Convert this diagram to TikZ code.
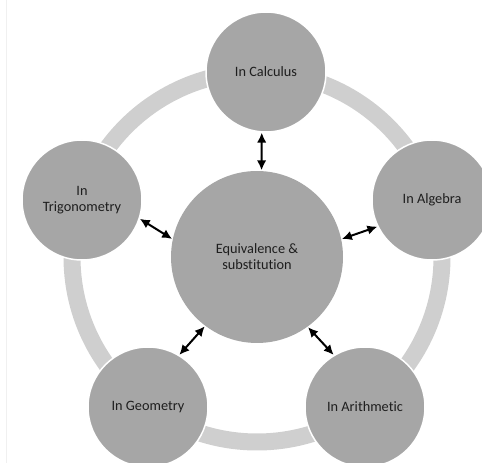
\documentclass[tikz,border=0pt]{standalone}
\usepackage{fontspec}
\setmainfont{Carlito}[Ligatures=NoCommon]
\usetikzlibrary{arrows.meta}
\definecolor{ringgrey}{HTML}{CFCFCF}
\definecolor{discgrey}{HTML}{A6A6A6}
\definecolor{labelgrey}{HTML}{1E1E1E}

\begin{document}
\begin{tikzpicture}[x=1pt,y=1pt]
    \tikzstyle{disc} = [circle, fill=discgrey, draw=white, line width=1.5pt, text=labelgrey, align=center, inner sep=0pt, font=\fontsize{14.3}{16}\selectfont]
    \tikzstyle{link} = [line width=2pt, {Latex[length=10pt,width=9.5pt]}-{Latex[length=10pt,width=9.5pt]}]

    \useasboundingbox (0,0) rectangle (482,463);
    \draw [gray!12, line width=0.6pt] (6.5,0) -- (6.5,463);

    % wide ring behind the outer discs
    \draw [ringgrey, line width=17pt] (257,206) circle (185pt);

    \node (hub) [disc, draw=none, minimum size=172pt] at (257,206) {Equivalence \&\\substitution};
    \node (calculus) [disc, minimum size=120pt] at (266,391) {In Calculus};
    \node (algebra) [disc, minimum size=120pt] at (432,263) {In Algebra};
    \node (arithmetic) [disc, minimum size=120pt] at (365,56) {In Arithmetic};
    \node (geometry) [disc, minimum size=120pt] at (148,56) {\raisebox{-5pt}{In Geometry}};
    \node (trig) [disc, minimum size=120pt] at (82,263) {In\\Trigonometry};

    \draw [link] (hub.87) -- (calculus.266);
    \draw [link] (hub.12) -- (algebra.206);
    \draw [link] (hub.306) -- (arithmetic.121);
    \draw [link] (hub.233) -- (geometry.59);
    \draw [link] (hub.168) -- (trig.-18);
\end{tikzpicture}
\end{document}
